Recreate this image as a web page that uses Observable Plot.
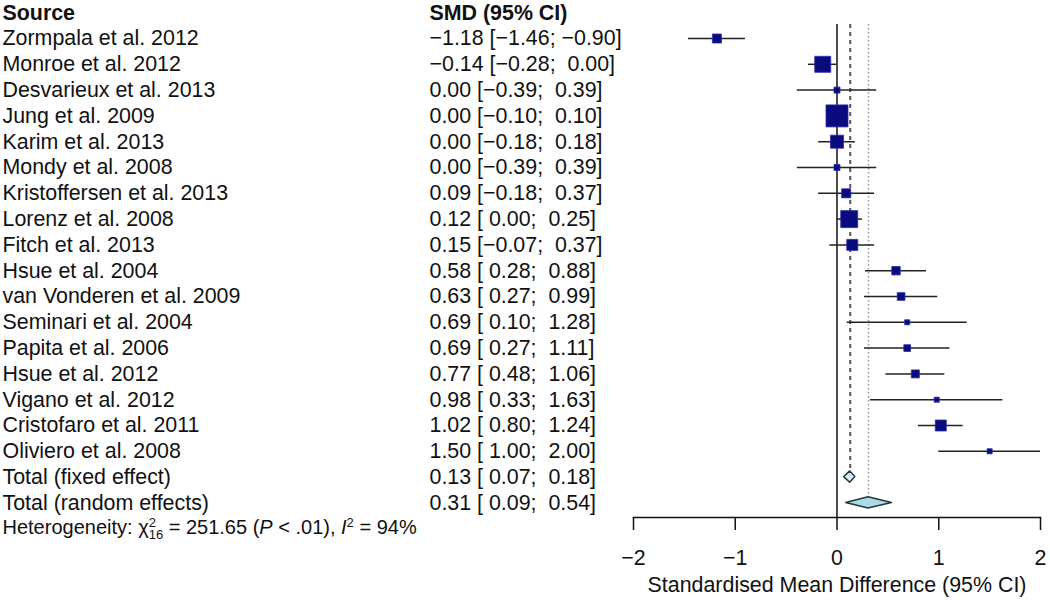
<!DOCTYPE html>
<html><head><meta charset="utf-8">
<script src="https://cdn.jsdelivr.net/npm/d3@7"></script>
<script src="https://cdn.jsdelivr.net/npm/@observablehq/plot@0.6"></script>
<style>
html,body{margin:0;padding:0;background:#fff;}
svg text{white-space:pre;}
</style></head><body><div id="chart"></div>
<script>
// ---- data ----
const studies = ["Zormpala et al. 2012","Monroe et al. 2012","Desvarieux et al. 2013","Jung et al. 2009","Karim et al. 2013","Mondy et al. 2008","Kristoffersen et al. 2013","Lorenz et al. 2008","Fitch et al. 2013","Hsue et al. 2004","van Vonderen et al. 2009","Seminari et al. 2004","Papita et al. 2006","Hsue et al. 2012","Vigano et al. 2012","Cristofaro et al. 2011","Oliviero et al. 2008"];
const smd     = [-1.18,-0.14,0.00,0.00,0.00,0.00,0.09,0.12,0.15,0.58,0.63,0.69,0.69,0.77,0.98,1.02,1.50];
const ciLower = [-1.46,-0.28,-0.39,-0.10,-0.18,-0.39,-0.18,0.00,-0.07,0.28,0.27,0.10,0.27,0.48,0.33,0.80,1.00];
const ciUpper = [-0.90,0.00,0.39,0.10,0.18,0.39,0.37,0.25,0.37,0.88,0.99,1.28,1.11,1.06,1.63,1.24,2.00];
const weights = [4.1,12.9,1.8,24.3,8.5,1.8,4.1,14.5,6.1,3.6,3.0,1.3,2.3,3.2,1.3,6.1,1.3];
const totalLabels = ["Total (fixed effect)","Total (random effects)"];
const totalSmd   = [0.13,0.31];
const totalLower = [0.07,0.09];
const totalUpper = [0.18,0.54];
const headers = ["Source","SMD (95% CI)"];
const xTicks = [-2,-1,0,1,2];
const xLabel = "Standardised Mean Difference (95% CI)";
const hetChi2 = "251.65", hetDf = "16", hetP = "< .01", hetI2 = "94";

// ---- helpers ----
const minus = s => s.replace("-", "\u2212");
const f2 = v => minus(v.toFixed(2));
const pad = v => (v >= 0 ? "\u00a0" : "") + f2(v);
const ciText = (e, l, u) => `${f2(e)} [${pad(l)}; ${pad(u)}]`;

const rows = studies.map((s, i) => ({name: s, est: smd[i], lo: ciLower[i], hi: ciUpper[i], w: weights[i], row: i + 1, label: ciText(smd[i], ciLower[i], ciUpper[i])}));
const totals = totalLabels.map((s, i) => ({name: s, est: totalSmd[i], lo: totalLower[i], hi: totalUpper[i], row: studies.length + 1 + i, label: ciText(totalSmd[i], totalLower[i], totalUpper[i])}));
const hetRow = studies.length + 3;
const dh = 0.22; // diamond half height (rows)
const diamonds = totals.flatMap((t, k) => [
  {k, x: t.lo, y1: t.row, y2: t.row},
  {k, x: t.est, y1: t.row - dh, y2: t.row + dh},
  {k, x: t.hi, y1: t.row, y2: t.row}
]);
const ruleTop = 0.46;
const font = "'Liberation Sans', Arial, Helvetica, sans-serif";
const fs = 21.4;

const svg = Plot.plot({
  width: 1050, height: 600,
  marginLeft: 633, marginRight: 10, marginTop: 24, marginBottom: 83,
  style: {fontFamily: font, fontSize: fs + "px", color: "#111", background: "#fff"},
  x: {domain: [-2, 2]},
  y: {domain: [0, hetRow], range: [12.2, 528.2], axis: null},
  r: {type: "sqrt", domain: [0, d3.max(weights)], range: [0, 12.4]},
  marks: [
    // reference lines
    Plot.ruleX([0], {stroke: "#111", strokeWidth: 1.5}),
    Plot.ruleX([totals[0]], {x: "est", y1: () => ruleTop, y2: d => d.row - dh, stroke: "#555", strokeWidth: 2, strokeDasharray: "4,4"}),
    Plot.ruleX([totals[1]], {x: "est", y1: () => ruleTop, y2: d => d.row - dh, stroke: "#999", strokeWidth: 1.5, strokeDasharray: "1.5,2.5"}),
    // CIs and squares
    Plot.ruleY(rows, {y: "row", x1: "lo", x2: "hi", stroke: "#222", strokeWidth: 1.5}),
    Plot.dot(rows, {x: "est", y: "row", r: "w", symbol: "square", fill: "#0b0b80", stroke: "#2a2aa8", strokeWidth: 0.8}),
    // diamonds
    Plot.area(diamonds, {x1: "x", y1: "y1", y2: "y2", z: "k", fill: d => d.k === 0 ? "#d6eef5" : "#add8e6", stroke: "#1f3a3a", strokeWidth: 1.5, curve: "linear"}),
    // axis
    Plot.frame({anchor: "bottom", stroke: "#111", strokeWidth: 1.5}),
    Plot.axisX({ticks: xTicks, tickSize: 13, tickPadding: 19, strokeWidth: 1.5, stroke: "#111", fill: "#111", fontSize: fs, label: null,
      tickFormat: d => (d < 0 ? "\u2212" + (-d) : String(d))}),
    Plot.text([xLabel], {frameAnchor: "bottom", dy: 68, text: d => d, fontSize: fs, fill: "#111", lineAnchor: "middle"}),
    // headers
    Plot.text([headers[0]], {y: () => 0, frameAnchor: "left", dx: -631, textAnchor: "start", text: d => d, fontWeight: "bold", fontSize: fs, fill: "#111"}),
    Plot.text([headers[1]], {y: () => 0, frameAnchor: "left", dx: -204, textAnchor: "start", text: d => d, fontWeight: "bold", fontSize: fs, fill: "#111"}),
    // study columns
    Plot.text(rows.concat(totals), {y: "row", frameAnchor: "left", dx: -631, textAnchor: "start", text: "name", fontSize: fs, fill: "#111"}),
    Plot.text(rows.concat(totals), {y: "row", frameAnchor: "left", dx: -204, textAnchor: "start", text: "label", fontSize: fs, fill: "#111"}),
    // heterogeneity
    Plot.text(["Heterogeneity"], {y: () => hetRow, frameAnchor: "left", dx: -631, dy: -1, textAnchor: "start", text: d => d, fontSize: 20, fill: "#111"})
  ]
});
document.getElementById("chart").appendChild(svg);

// rich formatting of heterogeneity statistic
const t = d3.select(svg).selectAll("text").filter(function () { return this.textContent === "Heterogeneity"; });
t.text(null);
t.append("tspan").text("Heterogeneity: \u03c7");
t.append("tspan").attr("font-size", 13).attr("dy", -7).text("2");
t.append("tspan").attr("font-size", 13).attr("dx", -7.2).attr("dy", 12).text(hetDf);
t.append("tspan").attr("dy", -5).text(` = ${hetChi2} (`);
t.append("tspan").attr("font-style", "italic").text("P");
t.append("tspan").text(` ${hetP}), `);
t.append("tspan").attr("font-style", "italic").text("I");
t.append("tspan").attr("font-size", 13).attr("dy", -7).text("2");
t.append("tspan").attr("dy", 7).text(` = ${hetI2}%`);
</script></body></html>
